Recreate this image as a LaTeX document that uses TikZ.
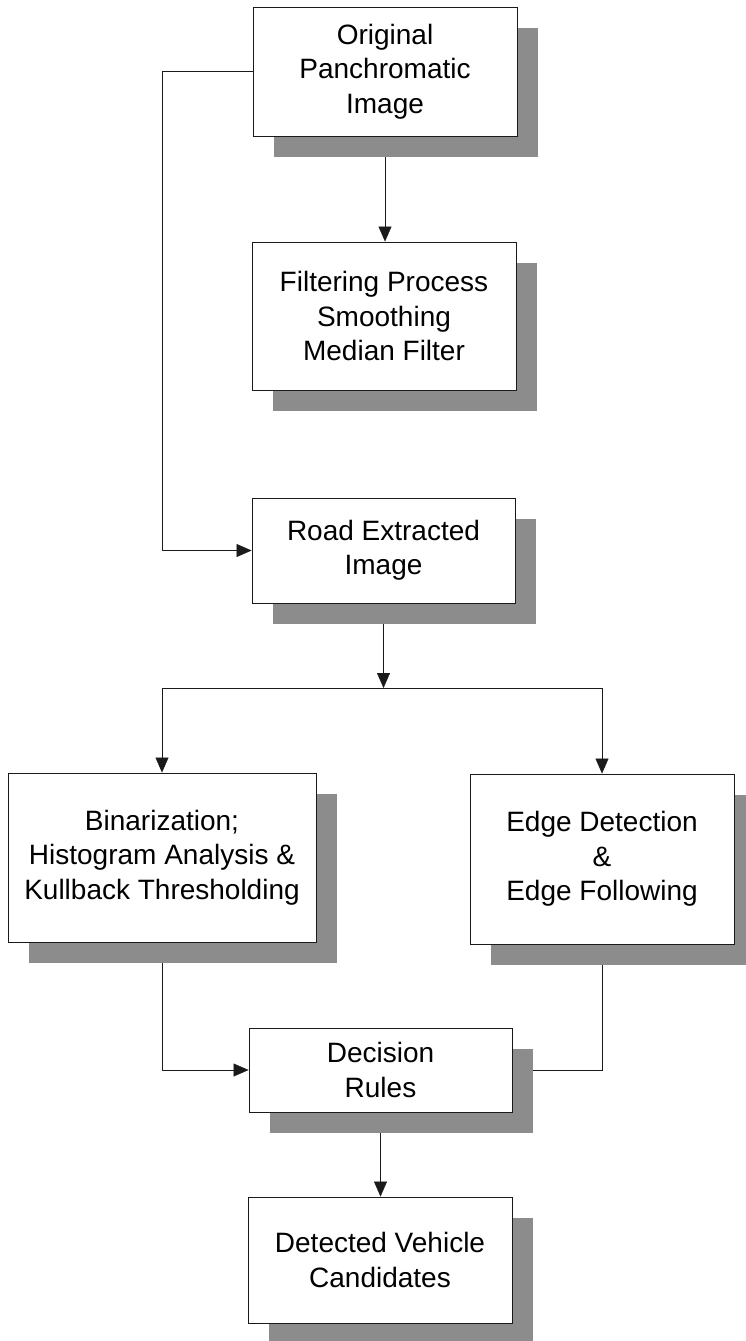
\documentclass[tikz,border=0pt]{standalone}
\usepackage{fontspec}
\setmainfont{Liberation Sans}
\usetikzlibrary{arrows.meta, shadows, backgrounds}
\definecolor{cshadow}{HTML}{8C8C8C}
\definecolor{cline}{HTML}{1A1A1A}
\tikzset{
  every picture/.style={x=1pt, y=-1pt, line width=0.9pt},
  stage/.style={draw=cline, fill=white, align=center, inner sep=0pt,
    font=\fontsize{28}{34.5}\selectfont,
    drop shadow={shadow xshift=21pt, shadow yshift=-21pt, fill=cshadow, opacity=1}},
  flow/.style={-{Triangle[length=15pt, width=13pt]}, draw=cline},
  link/.style={draw=cline},
}

\begin{document}
\begin{tikzpicture}
  \useasboundingbox (0,0) rectangle (746,1341);
  % Preprocessing chain
  \node[stage, minimum width=264pt, minimum height=129pt] (orig) at (385,71.5) {Original\\Panchromatic\\Image};
  \node[stage, minimum width=264pt, minimum height=148pt] (filt) at (384,316) {Filtering Process\\Smoothing\\Median Filter};
  \node[stage, minimum width=263pt, minimum height=105pt] (road) at (383.5,550.5) {Road Extracted\\Image};
  % Two branches
  \node[stage, minimum width=308pt, minimum height=169pt] (bin) at (162,857.5) {Binarization;\\Histogram Analysis \&\\Kullback Thresholding};
  \node[stage, minimum width=264pt, minimum height=170pt] (edge) at (602,859) {Edge Detection\\\&\\Edge Following};
  % Decision and result
  \node[stage, minimum width=263pt, minimum height=84pt] (dec) at (380.5,1070) {Decision\\Rules};
  \node[stage, minimum width=264pt, minimum height=126pt] (det) at (380,1260) {Detected Vehicle\\Candidates};
  \coordinate (split) at (383.5,688);
  \begin{scope}[on background layer]
    \draw[flow] (orig.south) -- (orig.south |- filt.north);
    \draw[flow] (orig.west) -- ++(-90,0) |- (road.west);
    \draw[flow] (road.south) -- (split);
    \draw[flow] (split) -| (bin.north);
    \draw[flow] (split) -| (edge.north);
    \draw[flow] (bin.south) |- (dec.west);
    \draw[link] (edge.south) |- (dec.east);
    \draw[flow] (dec.south) -- (dec.south |- det.north);
  \end{scope}
\end{tikzpicture}
\end{document}
